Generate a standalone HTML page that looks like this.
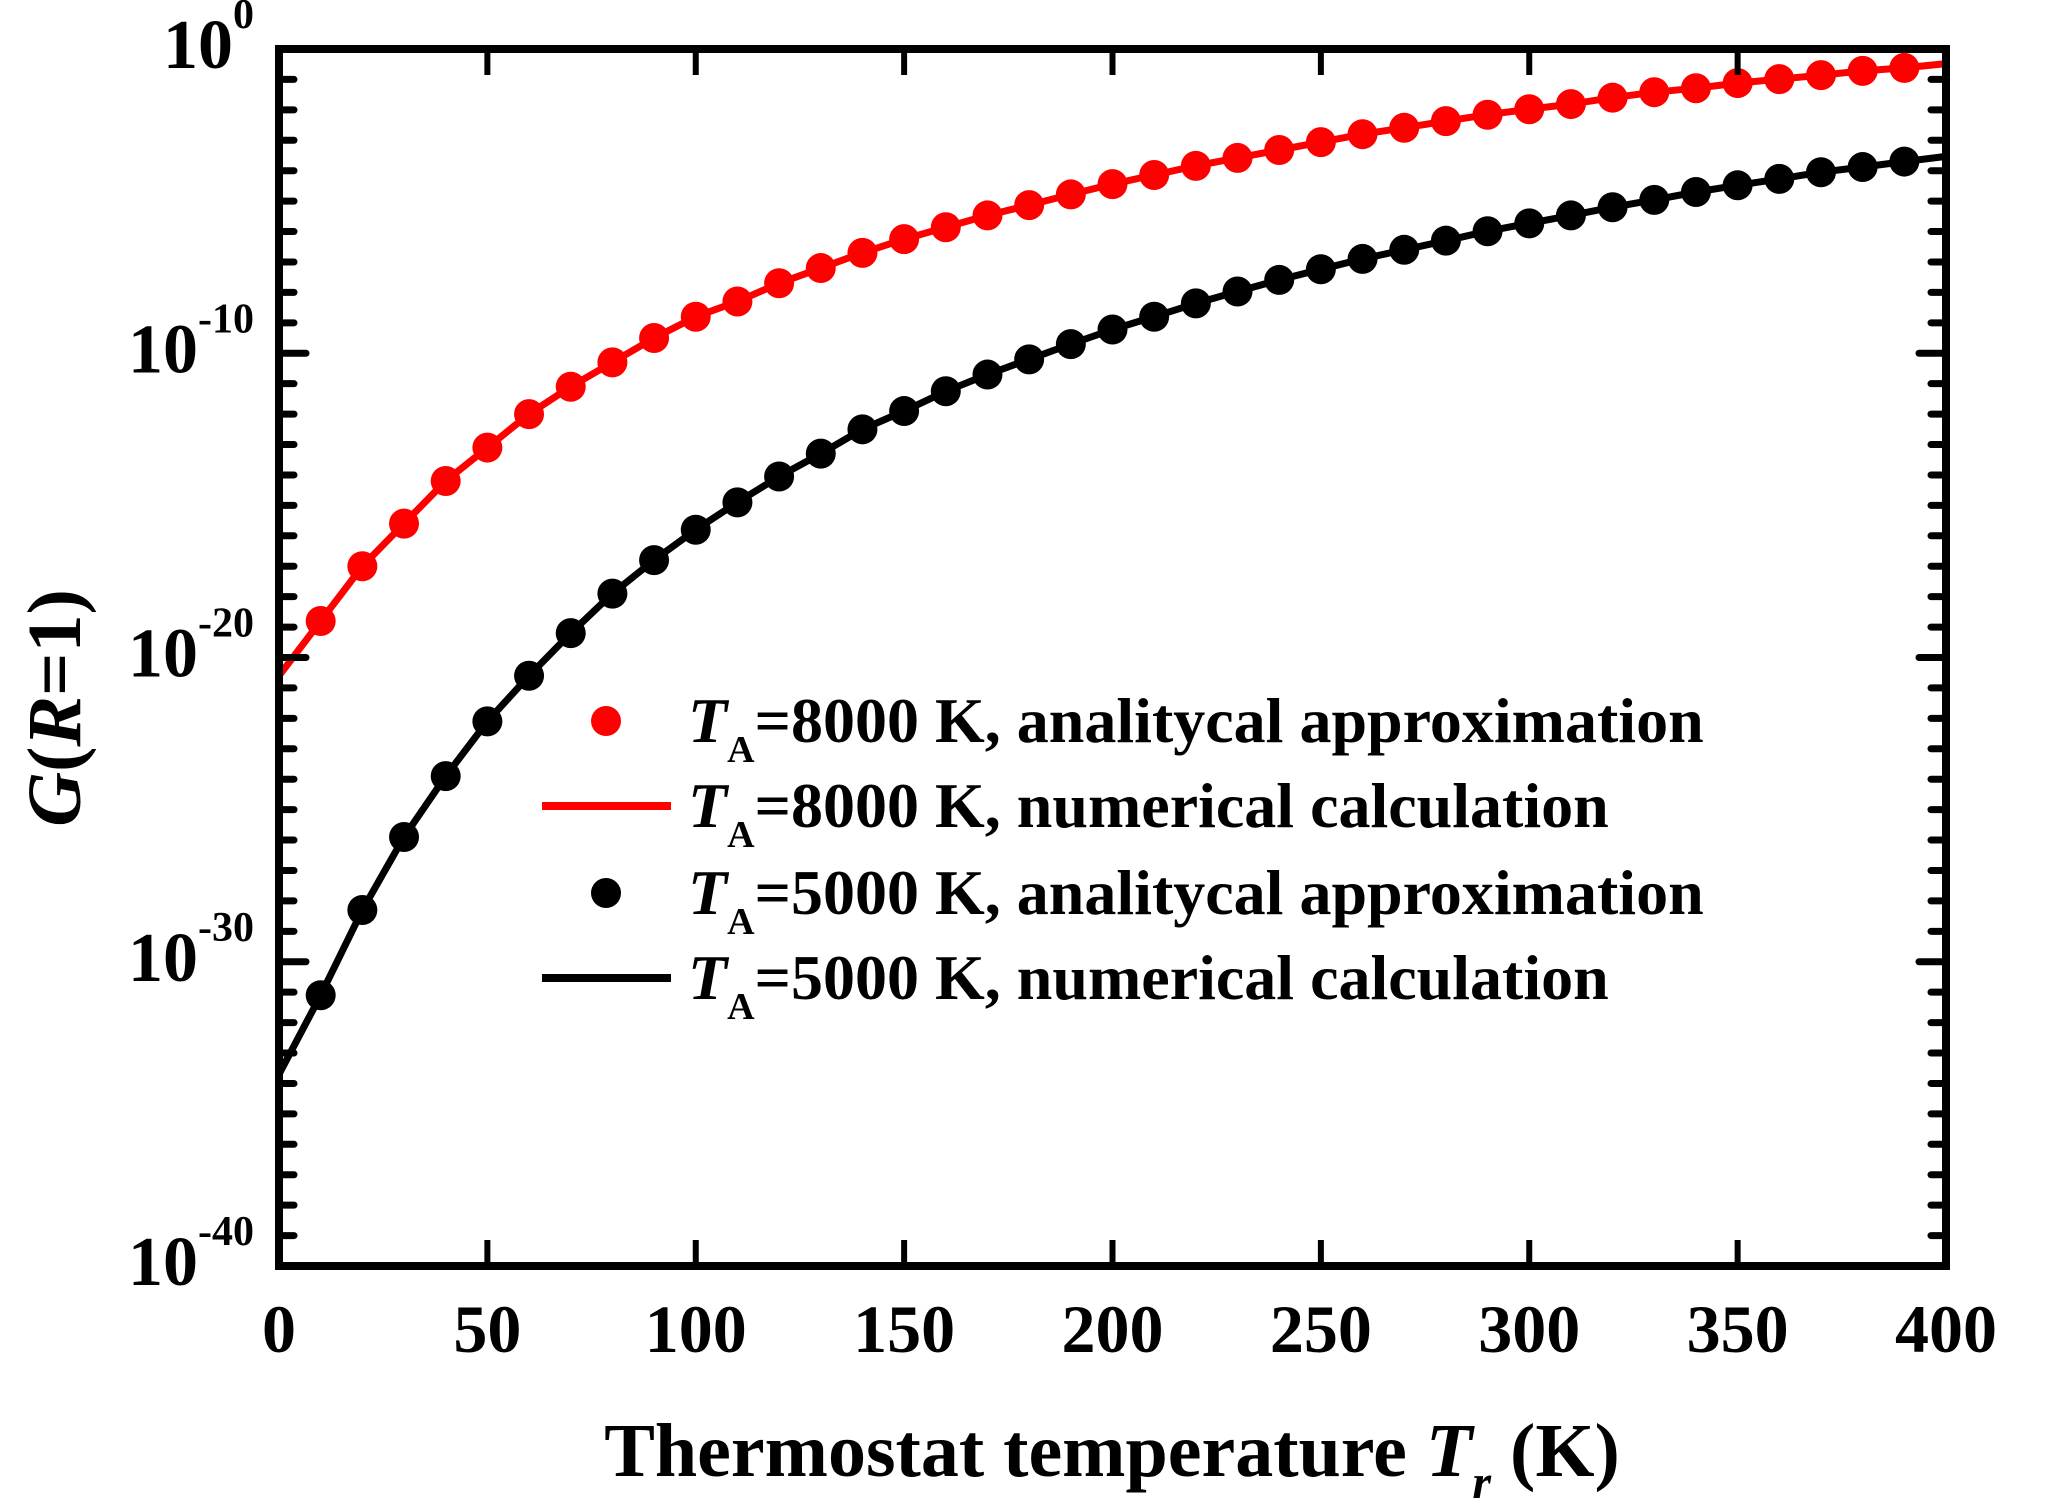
<!DOCTYPE html>
<html><head><meta charset="utf-8"><style>
html,body{margin:0;padding:0;background:#fff;}
svg{display:block;font-family:"Liberation Serif",serif;font-weight:bold;}
</style></head><body>
<svg id="chart" width="2054" height="1509" viewBox="0 0 2054 1509" xmlns="http://www.w3.org/2000/svg">
<g id="plot"></g>
<g id="axes"></g>
<text x="1112" y="1476" text-anchor="middle" font-size="76">Thermostat temperature <tspan font-style="italic">T</tspan><tspan font-style="italic" font-size="48" dy="22">r</tspan><tspan dy="-22"> (K)</tspan></text>
<text transform="translate(80,708) rotate(-90)" text-anchor="middle" font-size="76"><tspan font-style="italic">G</tspan>(<tspan font-style="italic">R</tspan>=1)</text>
<g id="legend"></g>
</svg>
<script>
const temps = [10,20,30,40,50,60,70,80,90,100,110,120,130,140,150,160,170,180,190,200,210,220,230,240,250,260,270,280,290,300,310,320,330,340,350,360,370,380,390];
const red8000Approx = [-18.8,-17.0,-15.6,-14.2,-13.1,-12.0,-11.1,-10.3,-9.5,-8.8,-8.3,-7.7,-7.2,-6.7,-6.25,-5.86,-5.47,-5.13,-4.78,-4.44,-4.14,-3.84,-3.58,-3.32,-3.06,-2.8,-2.59,-2.37,-2.16,-1.98,-1.81,-1.6,-1.42,-1.29,-1.12,-0.99,-0.86,-0.72,-0.62];
const black5000Approx = [-31.1,-28.3,-25.9,-23.9,-22.1,-20.6,-19.2,-17.9,-16.8,-15.8,-14.9,-14.05,-13.3,-12.5,-11.9,-11.25,-10.7,-10.2,-9.7,-9.22,-8.8,-8.36,-7.97,-7.59,-7.24,-6.9,-6.6,-6.3,-5.99,-5.73,-5.47,-5.2,-4.96,-4.7,-4.48,-4.27,-4.05,-3.88,-3.7];
const lineTemps = [0,10,20,30,40,50,60,70,80,90,100,110,120,130,140,150,160,170,180,190,200,210,220,230,240,250,260,270,280,290,300,310,320,330,340,350,360,370,380,390,400];
const red8000Num = [-20.6,-18.8,-17.0,-15.6,-14.2,-13.1,-12.0,-11.1,-10.3,-9.5,-8.8,-8.3,-7.7,-7.2,-6.7,-6.25,-5.86,-5.47,-5.13,-4.78,-4.44,-4.14,-3.84,-3.58,-3.32,-3.06,-2.8,-2.59,-2.37,-2.16,-1.98,-1.81,-1.6,-1.42,-1.29,-1.12,-0.99,-0.86,-0.72,-0.62,-0.48];
const black5000Num = [-33.7,-31.1,-28.3,-25.9,-23.9,-22.1,-20.6,-19.2,-17.9,-16.8,-15.8,-14.9,-14.05,-13.3,-12.5,-11.9,-11.25,-10.7,-10.2,-9.7,-9.22,-8.8,-8.36,-7.97,-7.59,-7.24,-6.9,-6.6,-6.3,-5.99,-5.73,-5.47,-5.2,-4.96,-4.7,-4.48,-4.27,-4.05,-3.88,-3.7,-3.53];
const xTicks = [0,50,100,150,200,250,300,350,400];
const yMajorExp = [0,-10,-20,-30,-40];

const NS = "http://www.w3.org/2000/svg";
const X0 = 279, X1 = 1946, Y0 = 49, Y1 = 1266;
const xs = t => X0 + (t / 400) * (X1 - X0);
const ys = e => Y0 + (-e / 40) * (Y1 - Y0);
function mk(tag, attrs, parent) {
  const el = document.createElementNS(NS, tag);
  for (const k in attrs) el.setAttribute(k, attrs[k]);
  parent.appendChild(el);
  return el;
}
const plot = document.getElementById('plot');
const axes = document.getElementById('axes');
const legend = document.getElementById('legend');

function drawLine(tArr, vArr, color, name) {
  const d = tArr.map((t, i) => (i ? 'L' : 'M') + xs(t).toFixed(1) + ',' + ys(vArr[i]).toFixed(1)).join(' ');
  const p = mk('path', {d: d, fill: 'none', stroke: color, 'stroke-width': 7, 'stroke-linejoin': 'round'}, plot);
  
  
}
function drawPoints(tArr, vArr, color, name) {
  tArr.forEach((t, i) => {
    const c = mk('circle', {cx: xs(t), cy: ys(vArr[i]), r: 15, fill: color}, plot);
    
    
  });
}
drawLine(lineTemps, red8000Num, '#ff0000', 'line-8000k-numerical');
drawLine(lineTemps, black5000Num, '#000000', 'line-5000k-numerical');
drawPoints(temps, red8000Approx, '#ff0000', 'point-8000k-approx');
drawPoints(temps, black5000Approx, '#000000', 'point-5000k-approx');

const fr = mk('rect', {x: X0, y: Y0, width: X1 - X0, height: Y1 - Y0, fill: 'none', stroke: '#000', 'stroke-width': 8}, axes);



xTicks.forEach(t => {
  const x = xs(t);
  if (t > 0 && t < 400) {
    const a = mk('line', {x1: x, y1: Y1, x2: x, y2: Y1 - 26, stroke: '#000', 'stroke-width': 6}, axes);
    
    
    const b = mk('line', {x1: x, y1: Y0, x2: x, y2: Y0 + 26, stroke: '#000', 'stroke-width': 6}, axes);
    
    
  }
  const lbl = mk('text', {x: x, y: 1352, 'text-anchor': 'middle', 'font-size': 68}, axes);
  lbl.textContent = String(t);
  
  
});
for (let e = -39; e <= -1; e++) {
  const y = ys(e);
  const len = (e % 10 === 0) ? 27 : 15;
  const a = mk('line', {x1: X0, y1: y, x2: X0 + len, y2: y, stroke: '#000', 'stroke-width': 7, 'stroke-linecap': 'round'}, axes);
  
  
  const b = mk('line', {x1: X1, y1: y, x2: X1 - len, y2: y, stroke: '#000', 'stroke-width': 7, 'stroke-linecap': 'round'}, axes);
  
  
}
yMajorExp.forEach(e => {
  const y = ys(e);
  const t = mk('text', {x: 254, y: y + 19, 'text-anchor': 'end', 'font-size': 70}, axes);
  
  
  t.innerHTML = '10<tspan font-size="42" dy="-40">' + e + '</tspan>';
});

const rows = [
  {y: 721, color: '#ff0000', kind: 'dot', num: '8000', desc: 'analitycal approximation', name: 'legend-entry-8000k-approx'},
  {y: 806, color: '#ff0000', kind: 'line', num: '8000', desc: 'numerical calculation', name: 'legend-entry-8000k-numerical'},
  {y: 893, color: '#000000', kind: 'dot', num: '5000', desc: 'analitycal approximation', name: 'legend-entry-5000k-approx'},
  {y: 978, color: '#000000', kind: 'line', num: '5000', desc: 'numerical calculation', name: 'legend-entry-5000k-numerical'}
];
rows.forEach(r => {
  const g = mk('g', {}, legend);
  
  
  if (r.kind === 'dot') mk('circle', {cx: 606, cy: r.y, r: 15, fill: r.color}, g);
  else mk('line', {x1: 542, y1: r.y, x2: 671, y2: r.y, stroke: r.color, 'stroke-width': 8}, g);
  const t = mk('text', {x: 688, y: r.y + 21, 'font-size': 64}, g);
  t.innerHTML = '<tspan font-style="italic">T</tspan><tspan font-size="38" dy="20">A</tspan><tspan dy="-20">=' + r.num + ' K, ' + r.desc + '</tspan>';
});
</script>
</body></html>
